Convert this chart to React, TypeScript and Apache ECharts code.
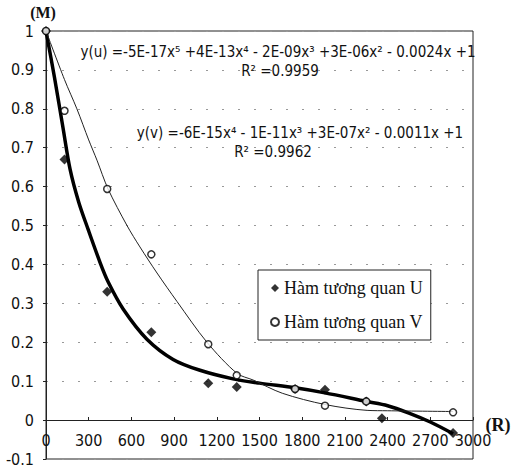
import React, { useEffect, useRef } from "react";
import * as echarts from "echarts";

// Observed points
const uR = [0, 130, 430, 740, 1140, 1340, 1750, 1960, 2250, 2360, 2860];
const uM = [1, 0.67, 0.33, 0.226, 0.095, 0.085, 0.08, 0.078, 0.048, 0.005, -0.033];
const vR = [0, 130, 430, 740, 1140, 1340, 1750, 1960, 2250, 2860];
const vM = [1, 0.795, 0.594, 0.426, 0.195, 0.115, 0.08, 0.037, 0.048, 0.02];

// Trend curves
const uTrendR = [0, 60, 120, 169, 230, 296, 380, 437, 543, 709, 893, 1082, 1314, 1500, 1750, 1960, 2250, 2400, 2550, 2700, 2860];
const uTrendM = [1, 0.88, 0.75, 0.645, 0.56, 0.49, 0.405, 0.355, 0.285, 0.208, 0.156, 0.128, 0.106, 0.095, 0.083, 0.07, 0.048, 0.037, 0.018, -0.005, -0.035];
const vTrendR = [0, 130, 217, 300, 358, 436, 569, 660, 780, 920, 1131, 1342, 1455, 1660, 1960, 2256, 2400, 2860];
const vTrendM = [1, 0.875, 0.8, 0.72, 0.668, 0.594, 0.5, 0.445, 0.378, 0.305, 0.2, 0.12, 0.103, 0.069, 0.04, 0.025, 0.024, 0.022];

const xTicks = [0, 300, 600, 900, 1200, 1500, 1800, 2100, 2400, 2700, 3000];
const legendNames = ["Hàm tương quan U", "Hàm tương quan V"];
const eqU = "y(u) =-5E-17x⁵ +4E-13x⁴ - 2E-09x³ +3E-06x² - 0.0024x +1";
const r2U = "R² =0.9959";
const eqV = "y(v) =-6E-15x⁴ - 1E-11x³ +3E-07x² - 0.0011x +1";
const r2V = "R² =0.9962";

const zip = (a: number[], b: number[]) => a.map((x, i) => [x, b[i]]);

export default function App() {
  const ref = useRef<HTMLDivElement>(null);
  useEffect(() => {
    if (!ref.current) return;
    const chart = echarts.init(ref.current, null, { renderer: "svg" });
    const eqFont = "DejaVu Sans Condensed, Liberation Sans Narrow, DejaVu Sans, sans-serif";
    const gridTop = 31;
    const gridBottom = 8;
    const plotH = 467 - gridTop - gridBottom;
    const zeroOffset = -Math.round((plotH * 0.1) / 1.1);
    chart.setOption({
      animation: false,
      backgroundColor: "#fff",
      grid: {
        left: 46,
        right: 39,
        top: gridTop,
        bottom: gridBottom,
        show: true,
        borderColor: "#222",
        borderWidth: 1,
        containLabel: false,
        outerBoundsMode: "none",
      },
      xAxis: {
        type: "value",
        min: 0,
        max: 3000,
        interval: 300,
        offset: zeroOffset,
        axisLine: { onZero: false, lineStyle: { color: "#222", width: 1 } },
        axisTick: { show: true, length: 3, inside: true, lineStyle: { color: "#222" } },
        axisLabel: {
          margin: 12,
          color: "#111",
          fontSize: 16,
          fontFamily: eqFont,
          formatter: (v: number) => (xTicks.includes(v) ? String(v) : ""),
        },
        splitLine: { show: false },
      },
      yAxis: {
        type: "value",
        min: -0.1,
        max: 1,
        interval: 0.1,
        axisLine: { show: true, lineStyle: { color: "#222", width: 1 } },
        axisTick: { show: true, length: 3, lineStyle: { color: "#222" } },
        axisLabel: {
          margin: 12,
          color: "#111",
          fontSize: 16,
          fontFamily: eqFont,
          formatter: (v: number) => String(Math.round(v * 10) / 10),
        },
        splitLine: { show: true, lineStyle: { color: "#999", type: [2, 14], width: 1 } },
      },
      legend: {
        data: legendNames,
        orient: "vertical",
        left: 258,
        top: 270,
        width: 180,
        itemWidth: 8,
        itemHeight: 8,
        itemGap: 16,
        padding: [9, 8, 9, 12],
        borderColor: "#222",
        borderWidth: 1,
        backgroundColor: "#fff",
        textStyle: { fontFamily: "Liberation Serif, serif", fontSize: 18, color: "#111" },
      },
      graphic: [
        { type: "text", x: 278, y: 52, style: { text: eqU, font: "15px " + eqFont, fill: "#111", textAlign: "center", textVerticalAlign: "middle" } },
        { type: "text", x: 280, y: 71, style: { text: r2U, font: "15px " + eqFont, fill: "#111", textAlign: "center", textVerticalAlign: "middle" } },
        { type: "text", x: 300, y: 133, style: { text: eqV, font: "15px " + eqFont, fill: "#111", textAlign: "center", textVerticalAlign: "middle" } },
        { type: "text", x: 273, y: 152, style: { text: r2V, font: "15px " + eqFont, fill: "#111", textAlign: "center", textVerticalAlign: "middle" } },
        { type: "text", x: 43, y: 12, style: { text: "(M)", font: "bold 16px Liberation Serif, serif", fill: "#111", textAlign: "center", textVerticalAlign: "middle" } },
        { type: "text", x: 498, y: 425, style: { text: "(R)", font: "bold 18px Liberation Serif, serif", fill: "#111", textAlign: "center", textVerticalAlign: "middle" } },
      ],
      series: [
        {
          name: "Trend U",
          type: "line",
          data: zip(uTrendR, uTrendM),
          smooth: 0.3,
          symbol: "none",
          lineStyle: { color: "#000", width: 3.5 },
          z: 3,
        },
        {
          name: "Trend V",
          type: "line",
          data: zip(vTrendR, vTrendM),
          smooth: 0.3,
          symbol: "none",
          lineStyle: { color: "#222", width: 1 },
          z: 3,
        },
        {
          name: legendNames[0],
          type: "scatter",
          data: zip(uR, uM),
          symbol: "diamond",
          symbolSize: 10,
          itemStyle: { color: "#000" },
          z: 5,
        },
        {
          name: legendNames[1],
          type: "scatter",
          data: zip(vR, vM),
          symbol: "circle",
          symbolSize: 7,
          itemStyle: { color: "#fff", borderColor: "#000", borderWidth: 1.5 },
          z: 6,
        },
      ],
    });
    return () => chart.dispose();
  }, []);
  return <div ref={ref} style={{ position: "fixed", left: 0, top: 0, width: 512, height: 467 }} />;
}
